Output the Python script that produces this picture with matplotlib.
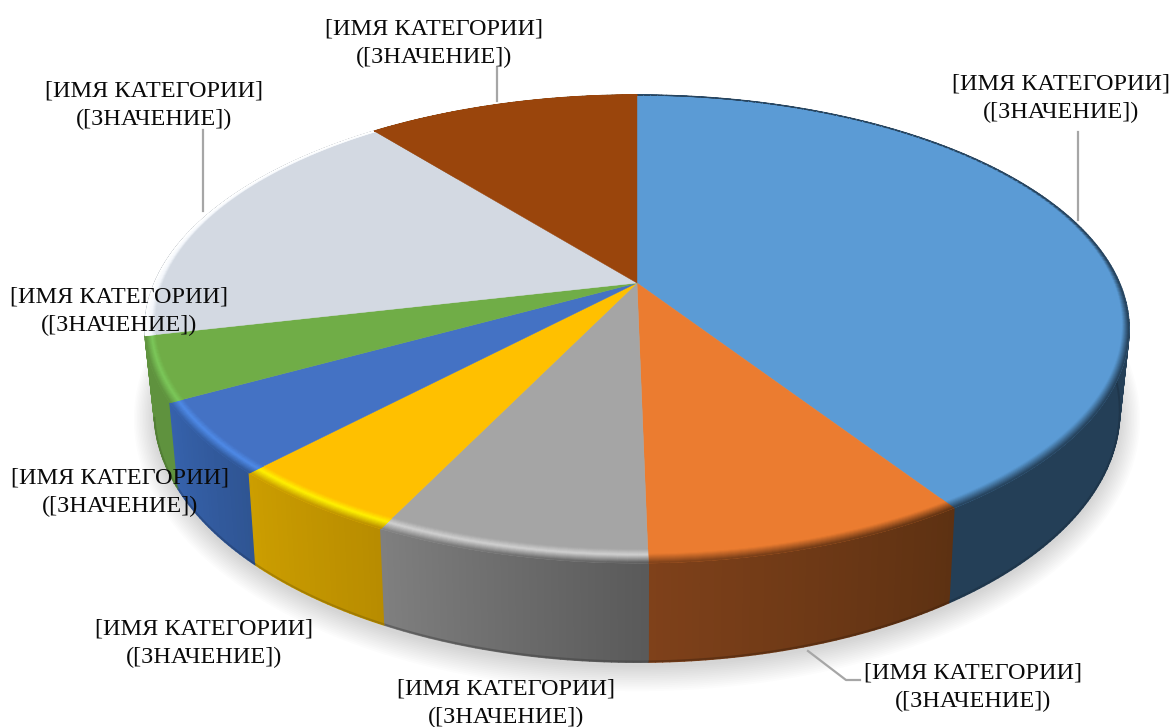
import numpy as np
import matplotlib
matplotlib.use("Agg")
import matplotlib.pyplot as plt
from matplotlib.collections import PolyCollection
from matplotlib.colors import to_rgb

# ---- data ----
categories = ["[ИМЯ КАТЕГОРИИ]"] * 8
value_labels = ["([ЗНАЧЕНИЕ])"] * 8
values = [40.75, 8.95, 7.5, 4.9, 4.9, 4.4, 17.8, 10.8]

# ---- style ----
top_colors = ["#5B9BD5", "#EB7C30", "#A5A5A5", "#FFC000", "#4472C4", "#70AD47", "#D3D9E2", "#9A450C"]
side_right = ["#243F57", "#5D3112", "#595959", "#B88C00", "#2F5593", "#5F923E", "#B0B5BC", "#6B3A0E"]
side_left = ["#243F57", "#7F411A", "#808080", "#CC9E00", "#3662AC", "#5F923E", "#B0B5BC", "#6B3A0E"]
highlights = [None, None, "#D2D2D2", "#FFF200", "#4F8BE8", "#7CC85A", "#F4F7FC", None]
band_outer = [None, None, None, None, None, None, "#FFFFFF", "#9A450C"]
leader_color = "#A6A6A6"
label_pos = [(1061, 98), (973, 687), (506, 703), (204, 643),
             (120, 492), (119, 311), (154, 105), (434, 43)]
leaders = [[(1078, 132), (1078, 220)],
           [(808, 651), (846, 680), (860, 680)],
           [],
           [],
           [],
           [],
           [(203, 130), (203, 211)],
           [(497, 68), (497, 101)]]

# projection of the disc (perspective)
CX, CY, RX, RY, K = 637.0, 283.0, 482.5, 225.0, 0.1966
LY, LRX, LRY, LK = 361.0, 473.0, 241.0, 0.2


def top_pt(theta, r=1.0):
    u, v = r * np.sin(theta), r * np.cos(theta)
    d = 1 + K * v
    return CX + RX * u / d, CY - RY * v / d


def low_pt(theta, grow=0.0):
    u, v = np.sin(theta), np.cos(theta)
    d = 1 + LK * v
    return CX + (LRX + grow) * u / d, LY - (LRY + grow) * v / d


def blend(a, b, t):
    return tuple((1 - t) * np.array(a) + t * np.array(b))


def width(th):
    return 0.004 + 0.036 * ((1 - np.cos(th)) / 2) ** 1.5


fig = plt.figure(figsize=(11.73, 7.27), dpi=100, facecolor="white")
ax = fig.add_axes([0, 0, 1, 1])
ax.set_xlim(0, 1173)
ax.set_ylim(727, 0)
ax.axis("off")

# shadow
all_t = np.linspace(0, 2 * np.pi, 361)
for g in np.arange(20, 0, -1.5):
    x, y = low_pt(all_t, grow=g)
    ax.fill(x + 0, y + 4, color="#000000", alpha=0.012, lw=0, zorder=1)

frac = np.array(values) / np.sum(values)
edges = np.concatenate([[0], np.cumsum(frac)]) * 2 * np.pi

# sides
quads, cols, depth = [], [], []
for i in range(len(values)):
    n = max(int(np.degrees(edges[i + 1] - edges[i]) / 0.7), 2)
    ts = np.linspace(edges[i], edges[i + 1], n + 1)
    cr, cl = to_rgb(side_right[i]), to_rgb(side_left[i])
    for j in range(n):
        a, b = ts[j], ts[j + 1]
        p1, p2 = top_pt(a), top_pt(b)
        q1, q2 = low_pt(a), low_pt(b)
        quads.append([p1, p2, q2, q1])
        cols.append(blend(cr, cl, (j + 0.5) / n))
        depth.append(-np.cos((a + b) / 2))
order = np.argsort(depth)
ax.add_collection(PolyCollection([quads[o] for o in order],
                                 facecolors=[cols[o] for o in order],
                                 edgecolors=[cols[o] for o in order],
                                 linewidths=1.0, zorder=2))

# dark lower edge of the side
for i in range(len(values)):
    ts = np.linspace(edges[i], edges[i + 1], 60)
    ts = ts[np.cos(ts) < 0.0]
    if len(ts) > 1 and i < 6:
        x, y = low_pt(ts)
        ax.plot(x, y - 0.8, color=blend(to_rgb(side_right[i]), (0, 0, 0), 0.3),
                lw=1.4, alpha=0.45, zorder=3, solid_capstyle="butt")

# top surface wedges
for i in range(len(values)):
    ts = np.linspace(edges[i], edges[i + 1], 200)
    x, y = top_pt(ts)
    ax.fill(np.r_[CX, x], np.r_[CY, y], color=top_colors[i], lw=0.3, zorder=4)

# bevel at the rim
nrad = 14
quads, cols = [], []
for i in range(len(values)):
    n = max(int(np.degrees(edges[i + 1] - edges[i]) / 1.0), 2)
    ts = np.linspace(edges[i], edges[i + 1], n + 1)
    base = to_rgb(top_colors[i])
    cr, cl = to_rgb(side_right[i]), to_rgb(side_left[i])
    for j in range(n):
        a, b = ts[j], ts[j + 1]
        side = blend(cr, cl, (j + 0.5) / n)
        if band_outer[i]:
            side = to_rgb(band_outer[i])
        if highlights[i]:
            stops_t = [0, 0.42, 1]
            stops_c = [base, to_rgb(highlights[i]), side]
        else:
            stops_t = [0, 0.35, 1]
            stops_c = [base, base, side]
        for k in range(nrad):
            t0, t1 = k / nrad, (k + 1) / nrad
            tm = (t0 + t1) / 2
            col = tuple(np.interp(tm, stops_t, [c[ch] for c in stops_c]) for ch in range(3))
            ra0, rb0 = 1 - width(a) * (1 - t0), 1 - width(b) * (1 - t0)
            ra1, rb1 = 1 - width(a) * (1 - t1), 1 - width(b) * (1 - t1)
            quads.append([top_pt(a, ra0), top_pt(b, rb0), top_pt(b, rb1), top_pt(a, ra1)])
            cols.append(col)
ax.add_collection(PolyCollection(quads, facecolors=cols, edgecolors=cols, linewidths=0.5, zorder=5))

# leader lines
for seg in leaders:
    if seg:
        ax.plot([p[0] for p in seg], [p[1] for p in seg], color=leader_color, lw=1.6, zorder=6)

# labels
for (cat, val, pos) in zip(categories, value_labels, label_pos):
    ax.text(pos[0], pos[1], f"{cat}\n{val}", family="Liberation Serif", fontsize=17.5,
            ha="center", va="center", multialignment="center", color="#0A0A0A",
            linespacing=1.45, zorder=7)

fig.savefig("out.png", dpi=100, facecolor="white")
